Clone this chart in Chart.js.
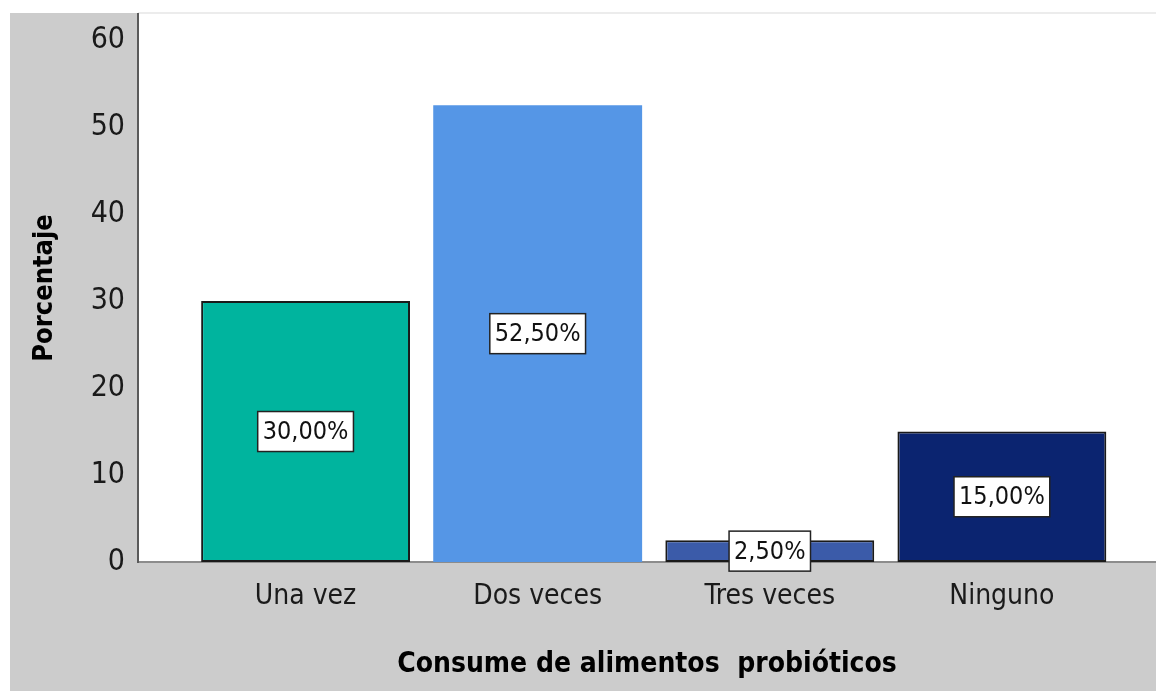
<!DOCTYPE html>
<html>
<head>
<meta charset="utf-8">
<script src="https://cdn.jsdelivr.net/npm/chart.js@4/dist/chart.umd.min.js"></script>
<style>
  html, body { margin: 0; padding: 0; background: #ffffff; overflow: hidden; }
  #wrap { width: 1156px; height: 691px; position: relative; }
</style>
</head>
<body>
<div id="wrap"><canvas id="c" width="1156" height="691"></canvas></div>
<script>
// Frecuencia de consumo de alimentos probióticos (porcentaje)
const categories = ['Una vez', 'Dos veces', 'Tres veces', 'Ninguno'];
const percentages = [30.0, 52.5, 2.5, 15.0];
const yTicks = [0, 10, 20, 30, 40, 50, 60];
const barColors = ['#00b49e', '#5596e6', '#3b5ba9', '#0b2470'];
const barBorders = [2, 0, 2, 2];

const FONT = '"Liberation Sans Narrow", "Arial Narrow", "DejaVu Sans Condensed", sans-serif';

const fmt = v => v.toFixed(2).replace('.', ',') + '%';

// Fondo gris del panel y área de trazado blanca
const panelBackground = {
  id: 'panelBackground',
  beforeDraw(chart) {
    const { ctx, chartArea: a, width, height } = chart;
    ctx.save();
    ctx.fillStyle = '#ffffff';
    ctx.fillRect(0, 0, width, height);
    ctx.fillStyle = '#cccccc';
    ctx.fillRect(10, 13, width - 10, height - 13);
    ctx.fillStyle = '#ffffff';
    ctx.fillRect(a.left, a.top, a.right - a.left, a.bottom - a.top);
    ctx.strokeStyle = '#ececec';
    ctx.lineWidth = 2;
    ctx.beginPath();
    ctx.moveTo(a.left, 13);
    ctx.lineTo(width, 13);
    ctx.stroke();
    ctx.restore();
  }
};

// Etiqueta con el valor en el centro de cada barra
const valueBoxes = {
  id: 'valueBoxes',
  afterDatasetsDraw(chart) {
    const { ctx } = chart;
    const meta = chart.getDatasetMeta(0);
    ctx.save();
    ctx.font = '25px ' + FONT;
    ctx.textAlign = 'center';
    ctx.textBaseline = 'middle';
    meta.data.forEach((bar, i) => {
      const text = fmt(percentages[i]);
      const cx = bar.x;
      const cy = (bar.y + bar.base) / 2;
      const w = ctx.measureText(text).width + 10;
      const h = 40;
      ctx.fillStyle = '#ffffff';
      ctx.fillRect(cx - w / 2, cy - h / 2, w, h);
      ctx.strokeStyle = '#222222';
      ctx.lineWidth = 1.5;
      ctx.strokeRect(cx - w / 2, cy - h / 2, w, h);
      ctx.fillStyle = '#111111';
      ctx.fillText(text, cx, cy + 1);
    });
    ctx.restore();
  }
};

new Chart(document.getElementById('c'), {
  type: 'bar',
  data: {
    datasets: [{
      data: percentages.map((v, i) => ({ x: i, y: v })),
      backgroundColor: barColors,
      borderColor: '#1a1a1a',
      borderWidth: barBorders,
      borderSkipped: false,
      barPercentage: 0.9,
      categoryPercentage: 1.0
    }]
  },
  plugins: [panelBackground, valueBoxes],
  options: {
    responsive: false,
    animation: false,
    events: [],
    layout: { padding: { left: 10, top: 14, right: 0, bottom: 0 } },
    plugins: {
      legend: { display: false },
      tooltip: { enabled: false },
      title: { display: false }
    },
    scales: {
      x: {
        type: 'linear',
        min: -0.722,
        max: 3.664,
        offset: false,
        grid: { display: false },
        border: { display: true, color: '#8c8c8c', width: 2 },
        afterBuildTicks: s => { s.ticks = categories.map((_, i) => ({ value: i })); },
        afterFit: s => { s.height = 129; s.paddingLeft = 0; s.paddingRight = 0; },
        ticks: {
          autoSkip: false,
          maxRotation: 0,
          padding: 10,
          color: '#1a1a1a',
          font: { family: FONT, size: 28 },
          callback: v => categories[v]
        },
        title: {
          display: true,
          text: 'Consume de alimentos  probióticos',
          color: '#000000',
          font: { family: FONT, size: 28, weight: 'bold' },
          padding: { top: 0, bottom: 9 }
        }
      },
      y: {
        min: 0,
        max: 63,
        grid: { display: false },
        border: { display: true, color: '#5a5a5a', width: 2 },
        afterBuildTicks: s => { s.ticks = yTicks.map(v => ({ value: v })); },
        afterFit: s => { s.width = 128; s.paddingTop = 0; s.paddingBottom = 0; },
        ticks: {
          padding: 5,
          color: '#1a1a1a',
          font: { family: FONT, size: 30 }
        },
        title: {
          display: true,
          text: 'Porcentaje',
          color: '#000000',
          font: { family: FONT, size: 27, weight: 'bold' },
          padding: { top: 19, bottom: 0 }
        }
      }
    }
  }
});
</script>
</body>
</html>
